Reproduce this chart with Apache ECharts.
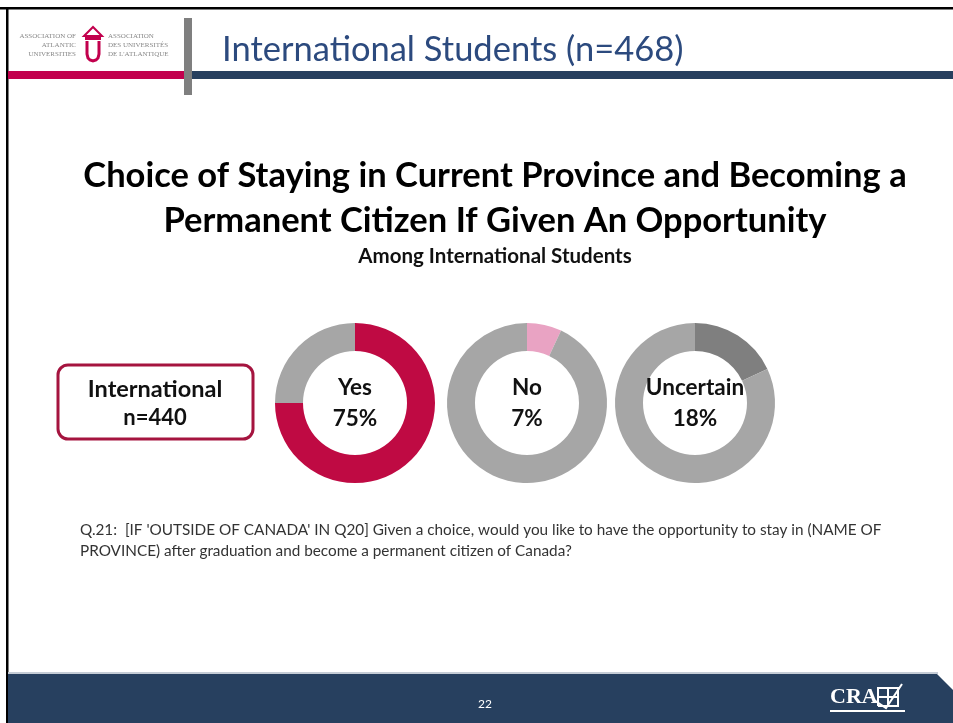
<!DOCTYPE html>
<html>
<head>
<meta charset="utf-8">
<script src="https://cdn.jsdelivr.net/npm/echarts@6/dist/echarts.min.js"></script>
<style>
html,body{margin:0;padding:0;background:#fff;}
#chart{width:953px;height:723px;}
</style>
</head>
<body>
<div id="chart"></div>
<script>
// ---- data ----
const categories = ['Yes', 'No', 'Uncertain'];
const percents = [75, 7, 18];
const sliceColors = ['#bf0a43', '#e9a3c3', '#7f7f7f'];
const groupLabel = 'International';
const groupN = 'n=440';
const headerTitle = 'International Students (n=468)';
const titleLines = ['Choice of Staying in Current Province and Becoming a', 'Permanent Citizen If Given An Opportunity'];
const subtitle = 'Among International Students';
const questionLines = [
  "Q.21:  [IF 'OUTSIDE OF CANADA' IN Q20] Given a choice, would you like to have the opportunity to stay in (NAME OF",
  "PROVINCE) after graduation and become a permanent citizen of Canada?"
];
const pageNumber = '22';

const FONT = 'Lato, "Open Sans", sans-serif';
const NAVY = '#27405f';
const CRIMSON = '#c2004d';
const REST = '#a6a6a6';

const chart = echarts.init(document.getElementById('chart'), null, {renderer: 'canvas'});

const centersX = [355, 527, 695];
const centerY = 403;

const series = categories.map((c, i) => ({
  type: 'pie',
  center: [centersX[i], centerY],
  radius: [52, 80],
  startAngle: 90,
  clockwise: true,
  silent: true,
  animation: false,
  labelLine: {show: false},
  emphasis: {disabled: true},
  data: [
    {
      name: c, value: percents[i],
      itemStyle: {color: sliceColors[i]},
      label: {
        show: true, position: 'center',
        formatter: () => c + '\n' + percents[i] + '%',
        fontFamily: FONT, fontWeight: 'bold', fontSize: 22.5, color: '#111',
        lineHeight: 31
      }
    },
    {
      name: 'rest', value: 100 - percents[i],
      itemStyle: {color: REST},
      label: {show: false}
    }
  ]
}));

const graphic = [
  // slide border lines
  {type: 'rect', shape: {x: 0, y: 7, width: 953, height: 2.5}, style: {fill: '#000'}},
  {type: 'rect', shape: {x: 6, y: 7, width: 2.5, height: 716}, style: {fill: '#000'}},
  // header bars
  {type: 'rect', shape: {x: 8, y: 71, width: 178, height: 8}, style: {fill: CRIMSON}},
  {type: 'rect', shape: {x: 191, y: 71, width: 762, height: 8}, style: {fill: NAVY}},
  {type: 'rect', shape: {x: 184, y: 18, width: 8, height: 77}, style: {fill: '#7f7f7f'}},
  // logo left text
  {type: 'text', x: 76, y: 32, style: {text: 'ASSOCIATION OF\nATLANTIC\nUNIVERSITIES', align: 'right', verticalAlign: 'top', font: '7px "Liberation Serif", serif', fill: '#888', lineHeight: 9}},
  {type: 'text', x: 108, y: 32, style: {text: 'ASSOCIATION\nDES UNIVERSITÉS\nDE L\'ATLANTIQUE', align: 'left', verticalAlign: 'top', font: '7px "Liberation Serif", serif', fill: '#888', lineHeight: 9}},
  // logo U icon
  {type: 'polygon', shape: {points: [[84, 36], [93, 27], [102, 36]]}, style: {fill: 'none', stroke: CRIMSON, lineWidth: 2}},
  {type: 'rect', shape: {x: 85, y: 37, width: 16, height: 3}, style: {fill: CRIMSON}},
  {type: 'polyline', shape: {points: [[87, 41], [87, 54], [88, 58], [90, 60], [93, 61], [96, 60], [98, 58], [99, 54], [99, 41]]}, style: {fill: 'none', stroke: CRIMSON, lineWidth: 3}},
  // header title
  {type: 'text', x: 222, y: 50, style: {text: headerTitle, font: '34.5px ' + FONT, fill: '#2c4a7e', verticalAlign: 'middle', align: 'left'}},
  // chart title
  {type: 'text', x: 495, y: 176, style: {text: titleLines[0], font: 'bold 34.5px ' + FONT, fill: '#000', align: 'center', verticalAlign: 'middle'}},
  {type: 'text', x: 495, y: 221, style: {text: titleLines[1], font: 'bold 34.5px ' + FONT, fill: '#000', align: 'center', verticalAlign: 'middle'}},
  {type: 'text', x: 495, y: 256, style: {text: subtitle, font: 'bold 20.5px ' + FONT, fill: '#111', align: 'center', verticalAlign: 'middle'}},
  // group box
  {type: 'rect', shape: {x: 58, y: 365, width: 195, height: 74, r: 10}, style: {fill: '#fff', stroke: '#a5143f', lineWidth: 3}},
  {type: 'text', x: 155, y: 389, style: {text: groupLabel, font: 'bold 23.5px ' + FONT, fill: '#111', align: 'center', verticalAlign: 'middle'}},
  {type: 'text', x: 155, y: 418, style: {text: groupN, font: 'bold 22px ' + FONT, fill: '#111', align: 'center', verticalAlign: 'middle'}},
  // question
  {type: 'text', x: 80, y: 530, style: {text: questionLines[0], font: '15.3px ' + FONT, fill: '#333', align: 'left', verticalAlign: 'middle'}},
  {type: 'text', x: 80, y: 551, style: {text: questionLines[1], font: '15.3px ' + FONT, fill: '#333', align: 'left', verticalAlign: 'middle'}},
  // footer
  {type: 'rect', shape: {x: 8, y: 672, width: 930, height: 2}, style: {fill: '#c5ccd6'}},
  {type: 'polygon', shape: {points: [[8, 674], [937, 674], [953, 690], [953, 723], [8, 723]]}, style: {fill: NAVY}},
  {type: 'text', x: 485, y: 704, style: {text: pageNumber, font: '12px ' + FONT, fill: '#fff', align: 'center', verticalAlign: 'middle'}},
  {type: 'text', x: 830, y: 697, style: {text: 'CRA', font: 'bold 22px "Liberation Serif", serif', fill: '#fff', align: 'left', verticalAlign: 'middle'}},
  {type: 'rect', shape: {x: 830, y: 710, width: 75, height: 2}, style: {fill: '#fff'}},
  {type: 'polyline', shape: {points: [[878, 706], [878, 688], [898, 688], [898, 706], [878, 706]]}, style: {fill: 'none', stroke: '#fff', lineWidth: 2}},
  {type: 'line', shape: {x1: 878, y1: 697, x2: 898, y2: 697}, style: {stroke: '#fff', lineWidth: 2}},
  {type: 'line', shape: {x1: 888, y1: 688, x2: 888, y2: 706}, style: {stroke: '#fff', lineWidth: 2}},
  {type: 'polyline', shape: {points: [[874, 700], [886, 708], [902, 684]]}, style: {fill: 'none', stroke: '#fff', lineWidth: 2}}
];

chart.setOption({
  backgroundColor: '#fff',
  animation: false,
  series: series,
  graphic: graphic
});
</script>
</body>
</html>
